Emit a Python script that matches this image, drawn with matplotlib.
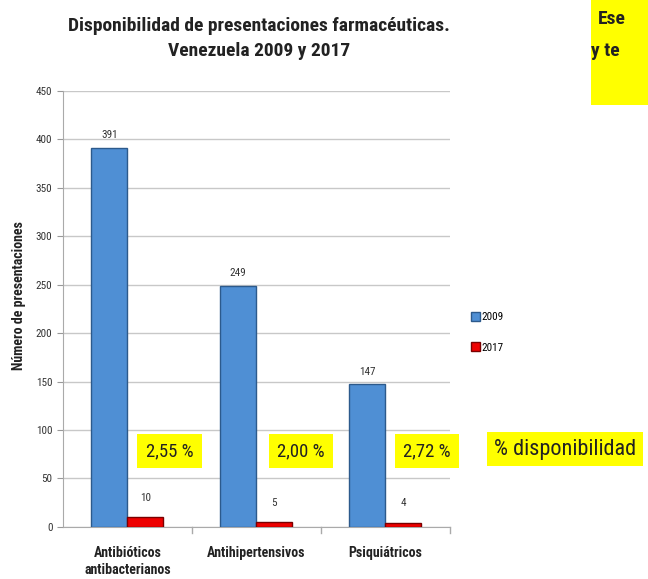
import numpy as np
import matplotlib.pyplot as plt

categorias = ['Antibióticos\nantibacterianos', 'Antihipertensivos', 'Psiquiátricos']
v2009 = [391, 249, 147]
v2017 = [10, 5, 4]
porcentajes = ['2,55 %', '2,00 %', '2,72 %']

fuente = ['Roboto Condensed', 'Liberation Sans Narrow', 'Roboto', 'DejaVu Sans']
plt.rcParams['font.family'] = fuente

fig = plt.figure(figsize=(6.48, 5.79), dpi=100)
ax = fig.add_axes([0.097, 0.09, 0.597, 0.753])

x = np.arange(len(categorias))
w = 0.28
b1 = ax.bar(x - w / 2, v2009, w, color='#4f8fd4', edgecolor='#2c5a8c', linewidth=1, label='2009', zorder=3)
b2 = ax.bar(x + w / 2, v2017, w, color='#ee0000', edgecolor='#7a0000', linewidth=1, label='2017', zorder=3)

for r, v in zip(b1, v2009):
    ax.text(r.get_x() + r.get_width() / 2, v + 8, str(v), ha='center', va='bottom', fontsize=8, color='#333333')
for r, v in zip(b2, v2017):
    ax.text(r.get_x() + r.get_width() / 2, v + 15, str(v), ha='center', va='bottom', fontsize=8, color='#333333')

ax.set_xlim(-0.5, 2.5)
ax.set_ylim(0, 450)
ax.set_yticks(range(0, 451, 50))
ax.yaxis.grid(True, color='#c8c8c8', linewidth=1, zorder=0)
ax.tick_params(axis='y', labelsize=8, length=4, color='#999999', labelcolor='#333333')
ax.set_xticks(x)
ax.set_xticklabels(categorias, fontsize=10, fontweight='bold', color='#222222')
ax.tick_params(axis='x', length=0, pad=14)
for t in [0.5, 1.5, 2.5]:
    ax.plot([t, t], [0, -6], color='#aaaaaa', linewidth=1, clip_on=False)
for s in ['top', 'right']:
    ax.spines[s].set_visible(False)
ax.spines['left'].set_color('#aaaaaa')
ax.spines['bottom'].set_color('#aaaaaa')
ax.set_ylabel('Número de presentaciones', fontsize=10, fontweight='bold', color='#222222')
ax.yaxis.set_label_coords(-0.095, 0.53)

fig.text(0.4, 0.97, 'Disponibilidad de presentaciones farmacéuticas.\nVenezuela 2009 y 2017',
         ha='center', va='top', fontsize=14, fontweight='bold', color='#222222', linespacing=1.45)

leg = ax.legend(loc='upper left', bbox_to_anchor=(1.03, 0.515), frameon=False, fontsize=8,
                handlelength=0.8, handleheight=0.8, handletextpad=0.1, labelspacing=1.8)

# recuadros amarillos
posx = [0.225, 0.428, 0.622]
for px, p in zip(posx, porcentajes):
    fig.text(px, 0.221, p, ha='left', va='center', fontsize=13.5, color='#222222',
             bbox=dict(boxstyle='square,pad=0.45', facecolor='#ffff00', edgecolor='none'))
fig.text(0.762, 0.224, '% disponibilidad', ha='left', va='center', fontsize=16, color='#222222',
         bbox=dict(boxstyle='square,pad=0.3', facecolor='#ffff00', edgecolor='none'))

fig.patches.append(plt.Rectangle((0.912, 0.818), 0.1, 0.2, transform=fig.transFigure,
                                 facecolor='#ffff00', edgecolor='none'))
fig.text(0.923, 0.968, 'Ese', ha='left', va='center', fontsize=14, fontweight='bold', color='#222222')
fig.text(0.912, 0.912, 'y te', ha='left', va='center', fontsize=14, fontweight='bold', color='#222222')

fig.savefig('out.png', dpi=100)
